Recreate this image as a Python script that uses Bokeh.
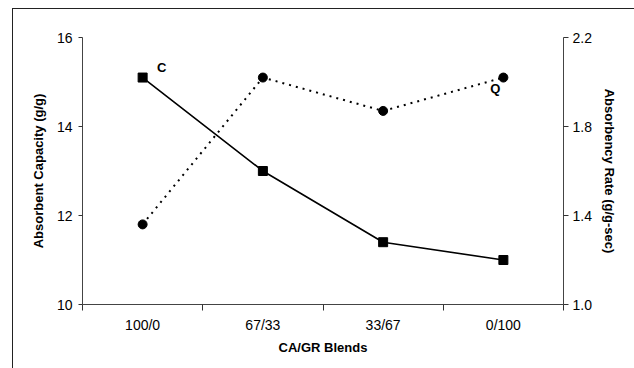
from bokeh.plotting import figure
from bokeh.models import Range1d, LinearAxis, FixedTicker, PrintfTickFormatter
from bokeh.core.properties import value
from bokeh.embed import file_html
from bokeh.resources import INLINE

categories = ["100/0", "67/33", "33/67", "0/100"]
capacity = [15.1, 13.0, 11.4, 11.0]          # g/g, left axis
rate = [1.36, 2.02, 1.87, 2.02]              # g/g-sec, right axis
left_ticks = [10, 12, 14, 16]
right_ticks = [1.0, 1.4, 1.8, 2.2]

xs = [i + 0.5 for i in range(len(categories))]
FONT = "Liberation Sans"

p = figure(width=622, height=360, output_backend="svg", toolbar_location=None,
           x_range=Range1d(0, len(categories)), y_range=Range1d(10, 16),
           min_border_left=69, min_border_right=72, min_border_top=28, min_border_bottom=65,
           margin=(8, 0, 0, 12),
           styles={"border-left": "1.5px solid #222", "border-top": "1.5px solid #222"})
p.outline_line_color = None
p.xgrid.grid_line_color = None
p.ygrid.grid_line_color = None
p.background_fill_color = "white"
p.border_fill_color = "white"

# x axis
xa = p.xaxis[0]
xa.ticker = FixedTicker(ticks=xs, minor_ticks=list(range(len(categories) + 1)))
xa.major_label_overrides = {x: c for x, c in zip(xs, categories)}
xa.major_tick_line_color = None
xa.major_tick_out = 0
xa.major_tick_in = 0
xa.minor_tick_out = 6
xa.minor_tick_in = 0
xa.minor_tick_line_color = "#333"
xa.axis_line_color = "#444"
xa.major_label_standoff = 6
xa.axis_label = "CA/GR Blends"
xa.axis_label_standoff = 4

# left axis
ya = p.yaxis[0]
ya.ticker = FixedTicker(ticks=left_ticks)
ya.minor_tick_line_color = None
ya.major_tick_out = 4
ya.major_tick_in = 0
ya.major_label_standoff = 6
ya.axis_line_color = "#444"
ya.major_tick_line_color = "#333"
ya.axis_label = "Absorbent Capacity (g/g)"
ya.axis_label_standoff = 8

# right axis
p.extra_y_ranges = {"rate": Range1d(1.0, 2.2)}
ra = LinearAxis(y_range_name="rate", ticker=FixedTicker(ticks=right_ticks),
                formatter=PrintfTickFormatter(format="%.1f"))
ra.minor_tick_line_color = None
ra.major_tick_out = 5
ra.major_tick_in = 0
ra.major_label_standoff = 4
ra.axis_line_color = "#444"
ra.major_tick_line_color = "#333"
ra.axis_label = "Absorbency Rate (g/g-sec)"
ra.axis_label_standoff = 7
p.add_layout(ra, "right")

for ax in [xa, ya, ra]:
    ax.major_label_text_font = FONT
    ax.major_label_text_font_size = "14px"
    ax.major_label_text_color = "black"
    ax.axis_label_text_font = FONT
    ax.axis_label_text_font_size = "13px"
    ax.axis_label_text_font_style = "bold"
    ax.axis_label_text_color = "black"

# capacity series (solid, squares)
p.line(xs, capacity, line_color="black", line_width=1.6)
p.scatter(xs, capacity, marker="square", size=9, color="black")

# rate series (dotted, circles)
p.line(xs, rate, y_range_name="rate", line_color="black", line_width=2, line_dash="2 5")
p.scatter(xs, rate, y_range_name="rate", marker="circle", size=9, color="black")

# series labels
p.text([xs[0]], [capacity[0]], text=["C"], x_offset=19, y_offset=-10,
       text_font=value(FONT), text_font_size="13px", text_font_style="bold",
       text_align="center", text_baseline="middle", text_color="black")
p.text([xs[-1]], [rate[-1]], text=["Q"], y_range_name="rate", x_offset=-8, y_offset=11,
       text_font=value(FONT), text_font_size="13px", text_font_style="bold",
       text_align="center", text_baseline="middle", text_color="black")

open("out.html", "w").write(file_html(p, INLINE))
